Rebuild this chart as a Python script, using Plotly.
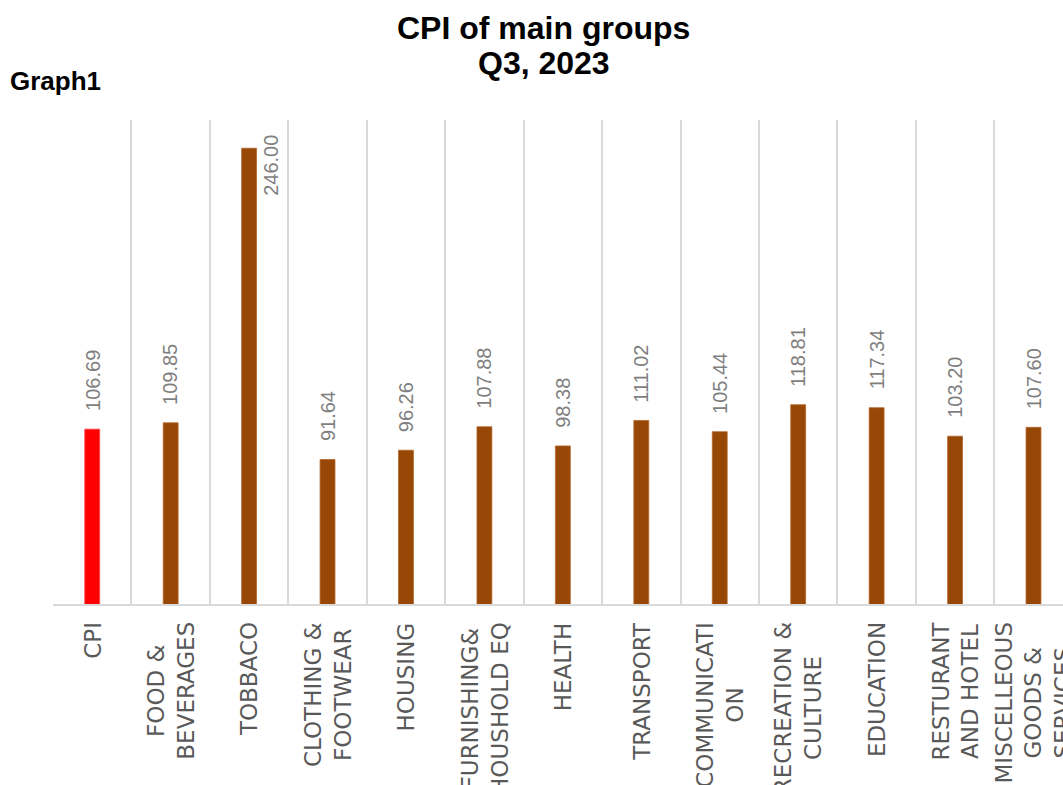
import plotly.graph_objects as go

# ---- data -------------------------------------------------------------
categories = [
    "CPI", "FOOD & BEVERAGES", "TOBBACO", "CLOTHING & FOOTWEAR", "HOUSING",
    "FURNISHING& HOUSHOLD EQ", "HEALTH", "TRANSPORT", "COMMUNICATION",
    "RECREATION & CULTURE", "EDUCATION", "RESTURANT AND HOTEL",
    "MISCELLEOUS GOODS & SERVICES",
]
tick_labels = [
    "CPI", "FOOD &<br>BEVERAGES", "TOBBACO", "CLOTHING &<br>FOOTWEAR", "HOUSING",
    "FURNISHING&<br>HOUSHOLD EQ", "HEALTH", "TRANSPORT", "COMMUNICATI<br>ON",
    "RECREATION &<br>CULTURE", "EDUCATION", "RESTURANT<br>AND HOTEL",
    "MISCELLEOUS<br>GOODS &<br>SERVICES",
]
cpi_values = [106.69, 109.85, 246.00, 91.64, 96.26, 107.88, 98.38,
              111.02, 105.44, 118.81, 117.34, 103.20, 107.60]

# ---- layout geometry ----------------------------------------------------
W, H = 1063, 785
PLOT_L, PLOT_T, PLOT_B = 53, 120, 604
PLOT_W = W - PLOT_L
PLOT_H = PLOT_B - PLOT_T
CAT_W = 78.44                      # pixels per category slot
Y_MIN, Y_MAX = 20, 260
PX_PER_UNIT = PLOT_H / (Y_MAX - Y_MIN)

RED = "#FF0000"
BROWN = "#974706"
GRID = "#D9D9D9"


def px_x(px):
    return (px - PLOT_L) / PLOT_W


def px_y(py):
    return (PLOT_B - py) / PLOT_H


colors = [RED] + [BROWN] * (len(categories) - 1)
edge_colors = ["#FF4040"] + ["#B5662A"] * (len(categories) - 1)

fig = go.Figure(
    go.Bar(
        x=categories,
        y=cpi_values,
        base=0,
        marker=dict(color=colors, line=dict(color=edge_colors, width=0.8)),
        hoverinfo="x+y",
    )
)

annotations = []

# value labels, rotated; a label that would run past the top goes beside its bar
LABEL_GAP = 16
LABEL_LEN = 60
VALUE_FONT = dict(family="Liberation Sans, Arial, sans-serif", size=20, color="#7F7F7F")
for i, v in enumerate(cpi_values):
    room = (Y_MAX - v) * PX_PER_UNIT
    text = f"{v:.2f}"
    if room >= LABEL_GAP + LABEL_LEN:
        annotations.append(dict(
            x=i, y=v, xref="x", yref="y", text=text, showarrow=False,
            textangle=-90, xanchor="center", yanchor="bottom", yshift=LABEL_GAP,
            font=VALUE_FONT,
        ))
    else:
        annotations.append(dict(
            x=i, y=v, xref="x", yref="y", text=text, showarrow=False,
            textangle=-90, xanchor="center", yanchor="top", yshift=15, xshift=22,
            font=VALUE_FONT,
        ))

# category labels under the axis, rotated, lines centred on each other
for i, lab in enumerate(tick_labels):
    annotations.append(dict(
        x=i, y=0, xref="x", yref="paper", text=lab, showarrow=False,
        textangle=-90, xanchor="center", yanchor="top", yshift=-16, align="center",
        font=dict(family="DejaVu Sans, sans-serif", size=23, color="#595959"),
    ))

# titles
TITLE_FONT = dict(family="Liberation Sans, Arial, sans-serif", size=32, color="#000000")
annotations.append(dict(
    x=px_x(543.5), y=px_y(27.5), xref="paper", yref="paper",
    text="<b>CPI of main groups</b>", showarrow=False,
    xanchor="center", yanchor="middle", font=TITLE_FONT,
))
annotations.append(dict(
    x=px_x(543.5), y=px_y(62.5), xref="paper", yref="paper",
    text="<b>Q3, 2023</b>", showarrow=False,
    xanchor="center", yanchor="middle", font=TITLE_FONT,
))
annotations.append(dict(
    x=px_x(8), y=px_y(81.5), xref="paper", yref="paper",
    text="<b>Graph1</b>", showarrow=False,
    xanchor="left", yanchor="middle",
    font=dict(family="Liberation Sans, Arial, sans-serif", size=26, color="#000000"),
))

x_end = -0.5 + PLOT_W / CAT_W

fig.update_layout(
    width=W, height=H,
    margin=dict(l=PLOT_L, r=0, t=PLOT_T, b=H - PLOT_B, pad=0),
    paper_bgcolor="white", plot_bgcolor="white",
    showlegend=False,
    bargap=0.81,
    annotations=annotations,
    xaxis=dict(
        type="category", categoryorder="array", categoryarray=categories,
        range=[-0.5, x_end], tickson="boundaries",
        showgrid=True, gridcolor=GRID, gridwidth=2,
        showticklabels=False, ticks="",
        showline=True, linecolor=GRID, linewidth=1.5,
        zeroline=False, fixedrange=True,
    ),
    yaxis=dict(
        range=[Y_MIN, Y_MAX], visible=False, showgrid=False,
        zeroline=False, fixedrange=True,
    ),
)

fig.write_html("out.html", config={"displayModeBar": False})
